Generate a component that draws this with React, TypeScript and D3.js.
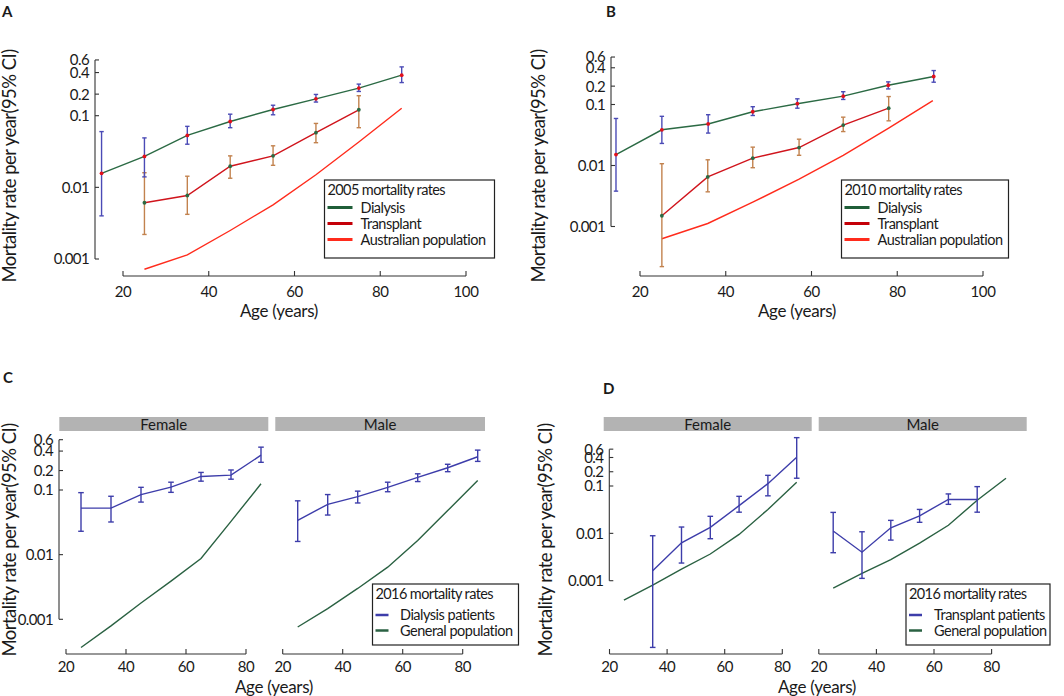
import * as d3 from "d3";
import { useEffect, useRef } from "react";

// panel A (2005)
const ageA = [15, 25, 35, 45, 55, 65, 75, 85];
const dialA = [0.0157, 0.027, 0.053, 0.083, 0.122, 0.172, 0.243, 0.368];
const dialALo = [0.004, 0.014, 0.04, 0.068, 0.103, 0.155, 0.218, 0.29];
const dialAHi = [0.06, 0.049, 0.071, 0.105, 0.14, 0.198, 0.276, 0.48];
const ageATx = [25, 35, 45, 55, 65, 75];
const txA = [0.0061, 0.0077, 0.0197, 0.0275, 0.058, 0.121];
const txALo = [0.0022, 0.0042, 0.0134, 0.0203, 0.042, 0.068];
const txAHi = [0.016, 0.0143, 0.0275, 0.038, 0.078, 0.19];
const ageAPop = [25, 35, 45, 55, 65, 75, 85];
const popA = [0.00072, 0.00114, 0.0025, 0.0057, 0.015, 0.043, 0.127];

// panel B (2010)
const ageB = [14.4, 25.1, 35.9, 46.3, 56.7, 67.4, 77.9, 88.5];
const dialB = [0.0151, 0.0385, 0.048, 0.076, 0.103, 0.137, 0.207, 0.288];
const dialBLo = [0.0038, 0.023, 0.034, 0.066, 0.087, 0.121, 0.18, 0.232];
const dialBHi = [0.059, 0.064, 0.068, 0.092, 0.124, 0.162, 0.235, 0.36];
const ageBTx = [25.1, 35.8, 46.3, 57.1, 67.4, 78];
const txB = [0.0015, 0.0065, 0.0132, 0.0197, 0.046, 0.087];
const txBLo = [0.00022, 0.0037, 0.0092, 0.0147, 0.036, 0.054];
const txBHi = [0.0107, 0.0124, 0.02, 0.027, 0.062, 0.135];
const ageBPop = [25.1, 35.8, 46.3, 57, 67.4, 78, 88.3];
const popB = [0.00063, 0.00112, 0.0025, 0.0059, 0.0146, 0.041, 0.116];

// panel C (2016 dialysis)
const ageC = [25, 35, 45, 55, 65, 75, 85];
const dialCF = [0.0525, 0.0525, 0.085, 0.111, 0.162, 0.17, 0.346];
const dialCFLo = [0.023, 0.032, 0.065, 0.092, 0.137, 0.147, 0.268];
const dialCFHi = [0.091, 0.08, 0.11, 0.132, 0.187, 0.204, 0.46];
const popCF = [0.000366, 0.00079, 0.00179, 0.0039, 0.0087, 0.0327, 0.125];
const dialCM = [0.034, 0.06, 0.079, 0.11, 0.157, 0.221, 0.327];
const dialCMLo = [0.016, 0.041, 0.063, 0.094, 0.135, 0.192, 0.277];
const dialCMHi = [0.068, 0.085, 0.096, 0.132, 0.178, 0.25, 0.414];
const popCM = [0.00076, 0.00146, 0.003, 0.0064, 0.0166, 0.048, 0.14];

// panel D (2016 transplant)
const ageDF = [35, 45, 55, 65, 75, 85];
const txDF = [0.00162, 0.0063, 0.0134, 0.0384, 0.112, 0.405];
const txDFLo = [0.000039, 0.00236, 0.0077, 0.028, 0.062, 0.146];
const txDFHi = [0.0089, 0.0136, 0.0229, 0.0605, 0.168, 1.05];
const ageDPop = [25, 35, 45, 55, 65, 75, 85];
const popDF = [0.00039, 0.00081, 0.00176, 0.00366, 0.0095, 0.032, 0.12];
const ageDM = [25, 35, 45, 55, 65, 75];
const txDM = [0.0112, 0.004, 0.0131, 0.0235, 0.052, 0.052];
const txDMLo = [0.0039, 0.00112, 0.0072, 0.0171, 0.041, 0.028];
const txDMHi = [0.0277, 0.0108, 0.0188, 0.032, 0.068, 0.097];
const popDM = [0.0007, 0.00143, 0.0028, 0.0062, 0.0148, 0.05, 0.146];

const yTicks = [0.001, 0.01, 0.1, 0.2, 0.4, 0.6];
const yTickLabels = ["0.001", "0.01", "0.1", "0.2", "0.4", "0.6"];
const xTicksWide = [20, 40, 60, 80, 100];
const xTicksFacet = [20, 40, 60, 80];

const FONT = "Lato, 'Open Sans', sans-serif";
const AXIS = "#333";
const GREEN = "#2b6a44";
const DOT_RED = "#e3101c";
const ERR_BLUE = "#4b4bb6";
const TX_RED = "#d0141c";
const ERR_BROWN = "#c2824e";
const POP_RED = "#ff2b1c";
const PAT_BLUE = "#3d3daa";
const POP_GREEN = "#2a6142";

type Sel = d3.Selection<SVGGElement, unknown, null, undefined>;
type Series = {
  ages: number[];
  vals: number[];
  lo?: number[];
  hi?: number[];
  line: string;
  dot?: string;
  err?: string;
  cap: number;
};

function yAxis(g: Sel, y: d3.ScaleLogarithmic<number, number>, x0: number) {
  g.append("line")
    .attr("x1", x0).attr("x2", x0)
    .attr("y1", y(0.001)).attr("y2", y(0.6))
    .attr("stroke", AXIS).attr("stroke-width", 1.1);
  yTicks.forEach((t, i) => {
    g.append("line")
      .attr("x1", x0).attr("x2", x0 + 4)
      .attr("y1", y(t)).attr("y2", y(t))
      .attr("stroke", AXIS).attr("stroke-width", 1.1);
    g.append("text")
      .attr("x", x0 - 6).attr("y", y(t)).attr("dy", "0.36em")
      .attr("text-anchor", "end")
      .style("font-size", "15px").style("letter-spacing", "-0.6px")
      .text(yTickLabels[i]);
  });
}

function xAxis(g: Sel, x: d3.ScaleLinear<number, number>, y0: number, ticks: number[], gap: number) {
  g.append("line")
    .attr("x1", x(ticks[0])).attr("x2", x(ticks[ticks.length - 1]))
    .attr("y1", y0).attr("y2", y0)
    .attr("stroke", AXIS).attr("stroke-width", 1.1);
  ticks.forEach((t) => {
    g.append("line")
      .attr("x1", x(t)).attr("x2", x(t))
      .attr("y1", y0).attr("y2", y0 - 5)
      .attr("stroke", AXIS).attr("stroke-width", 1.1);
    g.append("text")
      .attr("x", x(t)).attr("y", y0 + gap)
      .attr("text-anchor", "middle")
      .style("font-size", "15px").style("letter-spacing", "-0.4px")
      .text(t);
  });
}

function drawSeries(g: Sel, x: d3.ScaleLinear<number, number>, y: d3.ScaleLogarithmic<number, number>, s: Series) {
  const pts = s.ages.map((a, i) => ({ a, v: s.vals[i], lo: s.lo?.[i], hi: s.hi?.[i] }));
  const line = d3.line<typeof pts[number]>().x((d) => x(d.a)).y((d) => y(d.v));
  g.append("path")
    .attr("d", line(pts))
    .attr("fill", "none").attr("stroke", s.line).attr("stroke-width", 1.4);
  if (s.err) {
    const eb = g.selectAll(null).data(pts).enter().append("g")
      .attr("stroke", s.err).attr("stroke-width", 1.4);
    eb.append("line")
      .attr("x1", (d) => x(d.a)).attr("x2", (d) => x(d.a))
      .attr("y1", (d) => y(d.lo!)).attr("y2", (d) => y(d.hi!));
    eb.append("line")
      .attr("x1", (d) => x(d.a) - s.cap).attr("x2", (d) => x(d.a) + s.cap)
      .attr("y1", (d) => y(d.lo!)).attr("y2", (d) => y(d.lo!));
    eb.append("line")
      .attr("x1", (d) => x(d.a) - s.cap).attr("x2", (d) => x(d.a) + s.cap)
      .attr("y1", (d) => y(d.hi!)).attr("y2", (d) => y(d.hi!));
  }
  if (s.dot) {
    g.selectAll(null).data(pts).enter().append("circle")
      .attr("cx", (d) => x(d.a)).attr("cy", (d) => y(d.v))
      .attr("r", 1.9).attr("fill", s.dot);
  }
}

function legend(
  g: Sel, x0: number, y0: number, w: number, h: number, title: string,
  items: { label: string; color: string }[], rowY: number[], lineLen: number, textX: number, lw: number
) {
  g.append("rect")
    .attr("x", x0).attr("y", y0).attr("width", w).attr("height", h)
    .attr("fill", "white").attr("stroke", "#222").attr("stroke-width", 1.2);
  g.append("text")
    .attr("x", x0 + 3).attr("y", y0 + 14.5)
    .style("font-size", "14.5px").style("letter-spacing", "-0.6px")
    .text(title);
  items.forEach((it, i) => {
    g.append("line")
      .attr("x1", x0 + 3).attr("x2", x0 + 3 + lineLen)
      .attr("y1", rowY[i]).attr("y2", rowY[i])
      .attr("stroke", it.color).attr("stroke-width", lw);
    g.append("text")
      .attr("x", textX).attr("y", rowY[i]).attr("dy", "0.36em")
      .style("font-size", "14.5px").style("letter-spacing", "-0.5px")
      .text(it.label);
  });
}

function strip(g: Sel, x0: number, x1: number, label: string) {
  g.append("rect")
    .attr("x", x0).attr("y", 417).attr("width", x1 - x0).attr("height", 14)
    .attr("fill", "#b3b3b3");
  g.append("text")
    .attr("x", (x0 + x1) / 2).attr("y", 429.5)
    .attr("text-anchor", "middle")
    .style("font-size", "15px")
    .text(label);
}

function titles(g: Sel, letter: string, lx: number, ly: number, ycx: number, ycy: number, ax: number, ay: number) {
  g.append("text")
    .attr("x", lx).attr("y", ly)
    .style("font-size", "15px").style("font-weight", "bold")
    .text(letter);
  g.append("text")
    .attr("transform", `translate(${ycx},${ycy}) rotate(-90)`)
    .attr("text-anchor", "middle")
    .style("font-size", "18.5px").style("letter-spacing", "-0.55px")
    .text("Mortality rate per year(95% CI)");
  g.append("text")
    .attr("x", ax).attr("y", ay)
    .attr("text-anchor", "middle")
    .style("font-size", "17px").style("letter-spacing", "-0.3px")
    .text("Age (years)");
}

export default function App() {
  const ref = useRef<SVGSVGElement | null>(null);

  useEffect(() => {
    if (!ref.current) return;
    const svg = d3.select(ref.current);
    svg.selectAll("*").remove();
    const root = svg.append("g").style("font-family", FONT).attr("fill", "#1a1a1a") as unknown as Sel;

    // ---- A ----
    {
      const g = root.append("g");
      const x = d3.scaleLinear().domain([20, 100]).range([123, 466]);
      const y = d3.scaleLog().domain([0.001, 0.1]).range([259, 115.7]);
      titles(g, "A", 2, 17, 15.5, 166, 279, 317);
      yAxis(g, y, 95);
      xAxis(g, x, 276, xTicksWide, 21);
      drawSeries(g, x, y, { ages: ageAPop, vals: popA, line: POP_RED, cap: 0 });
      drawSeries(g, x, y, { ages: ageATx, vals: txA, lo: txALo, hi: txAHi, line: TX_RED, dot: GREEN, err: ERR_BROWN, cap: 2.2 });
      drawSeries(g, x, y, { ages: ageA, vals: dialA, lo: dialALo, hi: dialAHi, line: GREEN, dot: DOT_RED, err: ERR_BLUE, cap: 2.2 });
      legend(g, 324.5, 180, 170, 78, "2005 mortality rates",
        [{ label: "Dialysis", color: "#1f5e38" }, { label: "Transplant", color: "#c40008" }, { label: "Australian population", color: POP_RED }],
        [207.5, 223.5, 239.5], 25, 360.5, 3);
    }

    // ---- B ----
    {
      const g = root.append("g");
      const x = d3.scaleLinear().domain([20, 100]).range([640, 983]);
      const y = d3.scaleLog().domain([0.001, 0.1]).range([226.5, 104.5]);
      titles(g, "B", 606, 17, 545, 166, 797, 317);
      yAxis(g, y, 611);
      xAxis(g, x, 276, xTicksWide, 21);
      drawSeries(g, x, y, { ages: ageBPop, vals: popB, line: POP_RED, cap: 0 });
      drawSeries(g, x, y, { ages: ageBTx, vals: txB, lo: txBLo, hi: txBHi, line: TX_RED, dot: GREEN, err: ERR_BROWN, cap: 2.2 });
      drawSeries(g, x, y, { ages: ageB, vals: dialB, lo: dialBLo, hi: dialBHi, line: GREEN, dot: DOT_RED, err: ERR_BLUE, cap: 2.2 });
      legend(g, 841.5, 180, 167, 78, "2010 mortality rates",
        [{ label: "Dialysis", color: "#1f5e38" }, { label: "Transplant", color: "#c40008" }, { label: "Australian population", color: POP_RED }],
        [207.5, 223.5, 239.5], 25, 877.5, 3);
    }

    // ---- C ----
    {
      const g = root.append("g");
      const y = d3.scaleLog().domain([0.001, 0.1]).range([619.3, 490]);
      const xF = d3.scaleLinear().domain([20, 80]).range([66, 246]);
      const xM = d3.scaleLinear().domain([20, 80]).range([282.7, 462.7]);
      titles(g, "C", 3, 383, 15.5, 540, 274, 693);
      strip(g, 59.3, 268.3, "Female");
      strip(g, 275.3, 485, "Male");
      yAxis(g, y, 59);
      xAxis(g, xF, 654, xTicksFacet, 18);
      xAxis(g, xM, 654, xTicksFacet, 18);
      drawSeries(g, xF, y, { ages: ageC, vals: popCF, line: POP_GREEN, cap: 0 });
      drawSeries(g, xF, y, { ages: ageC, vals: dialCF, lo: dialCFLo, hi: dialCFHi, line: PAT_BLUE, err: PAT_BLUE, cap: 2.8 });
      drawSeries(g, xM, y, { ages: ageC, vals: popCM, line: POP_GREEN, cap: 0 });
      drawSeries(g, xM, y, { ages: ageC, vals: dialCM, lo: dialCMLo, hi: dialCMHi, line: PAT_BLUE, err: PAT_BLUE, cap: 2.8 });
      legend(g, 372.5, 584, 146, 61, "2016 mortality rates",
        [{ label: "Dialysis patients", color: PAT_BLUE }, { label: "General population", color: POP_GREEN }],
        [615, 630.5], 13, 400, 2.5);
    }

    // ---- D ----
    {
      const g = root.append("g");
      const y = d3.scaleLog().domain([0.001, 0.1]).range([580.7, 486]);
      const xF = d3.scaleLinear().domain([20, 80]).range([609.5, 782.3]);
      const xM = d3.scaleLinear().domain([20, 80]).range([818.8, 991.6]);
      titles(g, "D", 603, 394, 551.5, 540, 817, 693);
      strip(g, 603.7, 811.7, "Female");
      strip(g, 818.7, 1026.7, "Male");
      yAxis(g, y, 609.3);
      xAxis(g, xF, 654, xTicksFacet, 18);
      xAxis(g, xM, 654, xTicksFacet, 18);
      drawSeries(g, xF, y, { ages: ageDPop, vals: popDF, line: POP_GREEN, cap: 0 });
      drawSeries(g, xF, y, { ages: ageDF, vals: txDF, lo: txDFLo, hi: txDFHi, line: PAT_BLUE, err: PAT_BLUE, cap: 2.8 });
      drawSeries(g, xM, y, { ages: ageDPop, vals: popDM, line: POP_GREEN, cap: 0 });
      drawSeries(g, xM, y, { ages: ageDM, vals: txDM, lo: txDMLo, hi: txDMHi, line: PAT_BLUE, err: PAT_BLUE, cap: 2.8 });
      legend(g, 906, 584, 144, 61, "2016 mortality rates",
        [{ label: "Transplant patients", color: PAT_BLUE }, { label: "General population", color: POP_GREEN }],
        [615, 630.5], 13, 934, 2.5);
    }
  }, []);

  return (
    <svg
      ref={ref}
      width={1064}
      height={696}
      style={{ position: "absolute", left: 0, top: 0, background: "white" }}
    />
  );
}
